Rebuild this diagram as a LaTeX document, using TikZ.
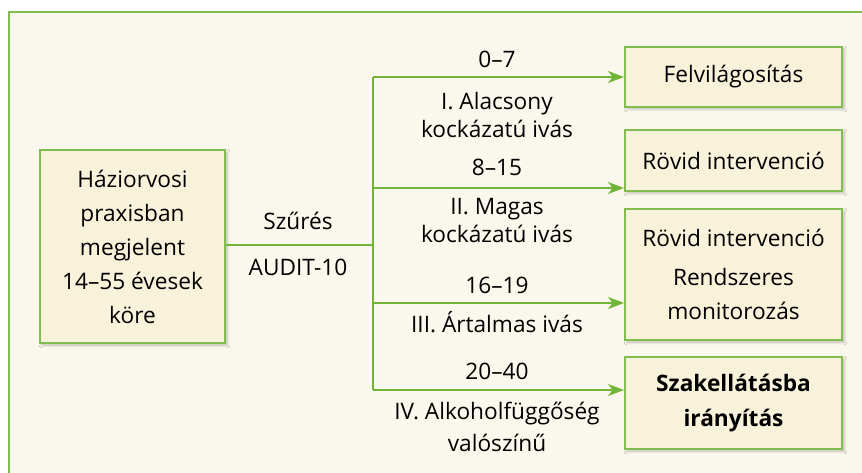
\documentclass[tikz,border=0pt]{standalone}
\usepackage{fontspec}
\setmainfont{Open Sans}
\usetikzlibrary{arrows.meta, shadows.blur}
\definecolor{frameGreen}{RGB}{128,188,78}
\definecolor{arrowGreen}{RGB}{112,180,56}
\definecolor{boxFill}{RGB}{248,242,219}
\definecolor{bgFill}{RGB}{250,247,236}

\begin{document}
\begin{tikzpicture}[x=0.75pt, y=-0.75pt,
    font=\fontsize{17}{25.5}\selectfont,
    box/.style={draw=frameGreen, fill=boxFill, line width=1.5pt, inner sep=0pt,
        align=center, blur shadow={shadow blur steps=6, shadow xshift=1.5pt,
        shadow yshift=-1.5pt, shadow opacity=25}},
    conn/.style={draw=arrowGreen, line width=1.1pt},
    arr/.style={conn, -{Stealth[length=12pt, width=9pt, inset=3.5pt]}},
    lbl/.style={anchor=base, inner sep=0pt}]

    \useasboundingbox (0,0) rectangle (862,473);
    % frame
    \fill[bgFill] (9,12) rectangle (862,473);
    \draw[frameGreen, line width=1.5pt] (9,473) -- (9,12) -- (862,12);

    % boxes
    \node[box, minimum width=138.75pt, minimum height=144.75pt] (haz) at (132.5,246.5)
        {Háziorvosi\\praxisban\\megjelent\\14–55 évesek\\köre};
    \node[box, minimum width=162.75pt, minimum height=45pt] (fel) at (733.5,77) {Felvilágosítás};
    \node[box, minimum width=162.75pt, minimum height=45.75pt] (rov) at (733.5,160.5) {Rövid intervenció};
    \node[box, minimum width=162.75pt, minimum height=98.25pt] (mon) at (733.5,274.5)
        {Rövid intervenció\\[4pt]Rendszeres\\monitorozás};
    \node[box, minimum width=162.75pt, minimum height=69pt, font=\fontsize{17}{26}\selectfont\bfseries] (szak) at (733.5,403)
        {Szakellátásba\\irányítás};

    % branches
    \coordinate (split) at (373,245);
    \coordinate (s1) at (373,77);
    \coordinate (s2) at (373,188);
    \coordinate (s3) at (373,303);
    \coordinate (s4) at (373,390);
    \draw[conn] (haz.east |- split) -- (split);
    \draw[conn] (s1) -- (s4);
    \draw[arr] (s1) -- (fel.west |- s1);
    \draw[arr] (s2) -- (rov.west |- s2);
    \draw[arr] (s3) -- (mon.west |- s3);
    \draw[arr] (s4) -- (szak.west |- s4);

    % labels
    \node[lbl] (szures) at (298,230) {Szűrés};
    \node[lbl] (audit) at (298,276) {AUDIT-10};
    \node[lbl] (p1) at (497,68) {0–7};
    \node[lbl] (c1a) at (497,110) {I. Alacsony};
    \node[lbl] (c1b) at (497,138) {kockázatú ivás};
    \node[lbl] (p2) at (497,176) {8–15};
    \node[lbl] (c2a) at (497,215) {II. Magas};
    \node[lbl] (c2b) at (497,243) {kockázatú ivás};
    \node[lbl] (p3) at (497,294) {16–19};
    \node[lbl] (c3a) at (497,333) {III. Ártalmas ivás};
    \node[lbl] (p4) at (497,379) {20–40};
    \node[lbl] (c4a) at (497,419) {IV. Alkoholfüggőség};
    \node[lbl] (c4b) at (497,451) {valószínű};
\end{tikzpicture}
\end{document}
